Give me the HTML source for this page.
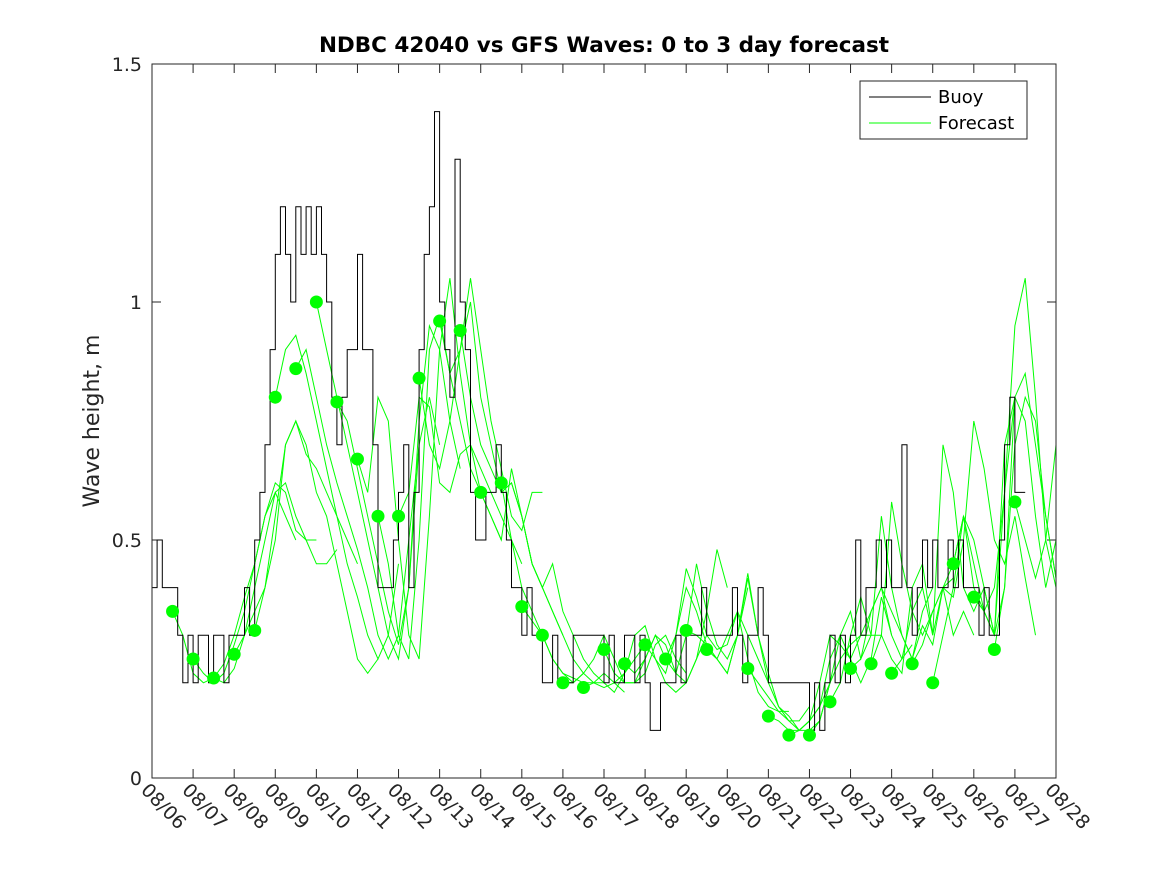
<!DOCTYPE html>
<html><head><meta charset="utf-8"><style>
html,body{margin:0;padding:0;background:#fff;}
svg{display:block;font-family:"DejaVu Sans","Liberation Sans",sans-serif;}
</style></head><body>
<svg id="chart" width="1167" height="875" viewBox="0 0 1167 875">
<rect x="0" y="0" width="1167" height="875" fill="#fff"/>
<text x="604" y="52" text-anchor="middle" font-size="21.5" font-weight="bold">NDBC 42040 vs GFS Waves: 0 to 3 day forecast</text>
<text transform="translate(99,421) rotate(-90)" text-anchor="middle" font-size="22" fill="#262626">Wave height, m</text>
<defs><clipPath id="pc"><rect x="152" y="64" width="904" height="714"/></clipPath></defs>
<g id="ticks"></g>
<g id="fc" clip-path="url(#pc)"></g>
<g id="buoy" clip-path="url(#pc)"></g>
<g id="dots"></g>
<rect x="152" y="64" width="904" height="714" fill="none" stroke="#262626" stroke-width="1"/>
<g>
<rect x="860" y="81" width="167" height="58" fill="#fff" stroke="#262626" stroke-width="1"/>
<line x1="869" y1="97" x2="931" y2="97" stroke="#000"/>
<text x="938" y="103" font-size="18">Buoy</text>
<line x1="869" y1="123" x2="931" y2="123" stroke="#00ff00"/>
<text x="938" y="129" font-size="18">Forecast</text>
</g>
</svg>
<script>
const xTickDays=[6,7,8,9,10,11,12,13,14,15,16,17,18,19,20,21,22,23,24,25,26,27,28];
const xTickLabels=["08/06","08/07","08/08","08/09","08/10","08/11","08/12","08/13","08/14","08/15","08/16","08/17","08/18","08/19","08/20","08/21","08/22","08/23","08/24","08/25","08/26","08/27","08/28"];
const yTicks=[0,0.5,1,1.5];
const yTickLabels=["0","0.5","1","1.5"];
const buoyStart=6, buoyStep=0.125;
const buoyValues=[
0.4,0.5,0.4,0.4,0.4,0.3,0.2,0.3,
0.2,0.3,0.3,0.2,0.3,0.3,0.2,0.3,
0.3,0.3,0.4,0.3,0.5,0.6,0.7,0.9,
1.1,1.2,1.1,1.0,1.2,1.1,1.2,1.1,
1.2,1.1,1.0,0.8,0.7,0.8,0.9,0.9,
1.1,0.9,0.9,0.7,0.4,0.4,0.4,0.5,
0.6,0.7,0.4,0.6,0.9,1.1,1.2,1.4,
1.0,0.9,0.8,1.3,1.0,0.9,0.6,0.5,
0.5,0.6,0.6,0.7,0.6,0.5,0.4,0.4,
0.3,0.4,0.3,0.3,0.2,0.2,0.3,0.2,
0.2,0.2,0.3,0.3,0.3,0.3,0.3,0.3,
0.2,0.3,0.2,0.2,0.3,0.3,0.2,0.3,
0.2,0.1,0.1,0.2,0.2,0.2,0.3,0.2,
0.3,0.3,0.3,0.4,0.3,0.3,0.3,0.3,
0.3,0.4,0.3,0.2,0.3,0.3,0.4,0.3,
0.2,0.2,0.2,0.2,0.2,0.2,0.2,0.2,
0.1,0.2,0.1,0.2,0.3,0.2,0.3,0.2,
0.3,0.5,0.3,0.4,0.4,0.5,0.4,0.5,
0.4,0.4,0.7,0.4,0.3,0.4,0.5,0.4,
0.5,0.4,0.4,0.5,0.4,0.5,0.4,0.4,
0.4,0.3,0.4,0.3,0.3,0.5,0.7,0.8,
0.6,0.6];
const dotDays=[6.5,7,7.5,8,8.5,9,9.5,10,10.5,11,11.5,12,12.5,13,13.5,14,14.5,15,15.5,16,16.5,17,17.5,18,18.5,19,19.5,20.5,21,21.5,22,22.5,23,23.5,24,24.5,25,25.5,26,26.5,27];
const dotValues=[0.35,0.25,0.21,0.26,0.31,0.8,0.86,1.0,0.79,0.67,0.55,0.55,0.84,0.96,0.94,0.6,0.62,0.36,0.3,0.2,0.19,0.27,0.24,0.28,0.25,0.31,0.27,0.23,0.13,0.09,0.09,0.16,0.23,0.24,0.22,0.24,0.2,0.45,0.38,0.27,0.58];
const fcStarts=[6.5,7.5,8.5,9.5,10,11.5,12.5,13.5,14.5,16,17.5,19,20.5,22,23.5,25,25.5,26.5,7,8,9,10.5,11,12,13,14,15,16.5,17,18,18.5,19.5,21,21.5,22.5,23,24,24.5,26,27];
const fcStep=0.25;
const fc1=[0.35,0.3,0.22,0.2,0.21,0.24,0.3,0.38,0.45,0.55,0.6,0.55,0.5];
const fc2=[0.21,0.2,0.23,0.3,0.4,0.5,0.6,0.62,0.55,0.5,0.45,0.45,0.48];
const fc3=[0.31,0.4,0.55,0.7,0.75,0.7,0.6,0.55,0.45,0.35,0.25,0.22,0.25];
const fc4=[0.86,0.9,0.8,0.7,0.62,0.55,0.48,0.4,0.3,0.25,0.3,0.5,0.7];
const fc5=[1.0,0.9,0.8,0.7,0.6,0.5,0.4,0.3,0.25,0.4,0.7,0.8,0.7];
const fc6=[0.55,0.45,0.3,0.25,0.5,0.9,0.97,0.85,0.75,0.65,0.6,0.55,0.5];
const fc7=[0.84,0.7,0.65,0.75,0.9,1.05,0.9,0.75,0.65,0.55,0.52,0.6,0.6];
const fc8=[0.94,0.8,0.7,0.65,0.6,0.62,0.55,0.45,0.4,0.35,0.3,0.25,0.22];
const fc9=[0.62,0.5,0.4,0.35,0.3,0.25,0.22,0.21,0.2,0.2,0.22,0.2,0.18];
const fc10=[0.2,0.2,0.22,0.25,0.3,0.25,0.2,0.2,0.22,0.28,0.3,0.25,0.22];
const fc11=[0.24,0.22,0.25,0.3,0.25,0.22,0.3,0.45,0.35,0.28,0.25,0.3,0.4];
const fc12=[0.31,0.3,0.28,0.25,0.22,0.3,0.42,0.3,0.22,0.15,0.12,0.12,0.15];
const fc13=[0.23,0.2,0.17,0.14,0.12,0.1,0.12,0.15,0.2,0.25,0.28,0.3,0.3];
const fc14=[0.09,0.12,0.2,0.3,0.35,0.25,0.3,0.55,0.4,0.3,0.25,0.35,0.4];
const fc15=[0.24,0.3,0.25,0.22,0.4,0.45,0.3,0.7,0.6,0.4,0.35,0.4,0.3];
const fc16=[0.2,0.3,0.4,0.55,0.5,0.4,0.3,0.7,0.8,0.75,0.55,0.4,0.5];
const fc17=[0.45,0.55,0.45,0.35,0.3,0.6,0.95,1.05,0.8,0.5,0.4,0.7,1.0];
const fc18=[0.27,0.4,0.7,0.8,0.75,0.55,0.42,0.5,0.7,0.85,0.9,0.8,0.65];
const fc19=[0.25,0.22,0.2,0.22,0.28,0.35,0.45,0.55,0.62,0.6,0.52,0.5,0.5];
const fc20=[0.26,0.3,0.35,0.4,0.5,0.7,0.75,0.68,0.65,0.6,0.55,0.5,0.45];
const fc21=[0.8,0.9,0.93,0.85,0.75,0.65,0.55,0.45,0.38,0.3,0.25,0.3,0.45];
const fc22=[0.79,0.75,0.65,0.55,0.45,0.35,0.28,0.4,0.75,0.95,0.9,0.75,0.65];
const fc23=[0.67,0.6,0.8,0.75,0.5,0.3,0.25,0.55,0.9,1.05,0.85,0.7,0.6];
const fc24=[0.55,0.6,0.8,0.78,0.62,0.6,0.68,0.7,0.65,0.6,0.55,0.5,0.45];
const fc25=[0.96,0.85,0.9,1.0,0.8,0.7,0.6,0.62,0.55,0.45,0.4,0.35,0.3];
const fc26=[0.6,0.55,0.5,0.65,0.55,0.45,0.4,0.45,0.35,0.3,0.25,0.22,0.2];
const fc27=[0.36,0.33,0.3,0.25,0.22,0.2,0.22,0.2,0.19,0.2,0.22,0.25,0.28];
const fc28=[0.19,0.2,0.2,0.18,0.22,0.3,0.32,0.25,0.2,0.18,0.2,0.25,0.3];
const fc29=[0.27,0.22,0.2,0.2,0.25,0.3,0.28,0.22,0.2,0.25,0.35,0.48,0.4];
const fc30=[0.28,0.25,0.22,0.3,0.4,0.35,0.28,0.25,0.3,0.35,0.3,0.25,0.2];
const fc31=[0.25,0.3,0.44,0.38,0.3,0.27,0.28,0.35,0.25,0.18,0.15,0.14,0.14];
const fc32=[0.27,0.25,0.22,0.3,0.43,0.3,0.2,0.15,0.13,0.1,0.1,0.12,0.2];
const fc33=[0.13,0.12,0.1,0.1,0.12,0.15,0.25,0.3,0.25,0.2,0.25,0.38,0.3];
const fc34=[0.09,0.1,0.12,0.2,0.3,0.28,0.25,0.3,0.35,0.4,0.3,0.25,0.28];
const fc35=[0.16,0.2,0.3,0.38,0.3,0.3,0.58,0.45,0.35,0.3,0.35,0.4,0.42];
const fc36=[0.23,0.25,0.35,0.4,0.35,0.3,0.25,0.32,0.28,0.4,0.3,0.35,0.3];
const fc37=[0.22,0.25,0.35,0.4,0.3,0.4,0.45,0.55,0.4,0.35,0.4,0.6,0.8];
const fc38=[0.24,0.28,0.35,0.4,0.38,0.5,0.75,0.65,0.5,0.45,0.55,0.42,0.3];
const fc39=[0.38,0.35,0.3,0.4,0.8,0.85,0.7,0.55,0.42,0.6,0.9,1.02,0.85];
const fc40=[0.58,0.5,0.42,0.5,0.7,0.85,0.9,0.8,0.7,0.6,0.5,0.45,0.4];
const fcSeries=[fc1,fc2,fc3,fc4,fc5,fc6,fc7,fc8,fc9,fc10,fc11,fc12,fc13,fc14,fc15,fc16,fc17,fc18,fc19,fc20,fc21,fc22,fc23,fc24,fc25,fc26,fc27,fc28,fc29,fc30,fc31,fc32,fc33,fc34,fc35,fc36,fc37,fc38,fc39,fc40];

const NS="http://www.w3.org/2000/svg";
const X0=152,X1=1056,Y0=778,Y1=64;
function xs(d){return X0+(d-6)/(28-6)*(X1-X0);}
function ys(v){return Y0-(v-0)/(1.5-0)*(Y0-Y1);}
function mk(tag,parent){const e=document.createElementNS(NS,tag);parent.appendChild(e);return e;}

const tg=document.getElementById('ticks');
xTickDays.forEach((d,i)=>{
  const x=xs(d);
  const t1=mk('line',tg);
  
  
  t1.setAttribute('x1',x);t1.setAttribute('x2',x);t1.setAttribute('y1',Y0);t1.setAttribute('y2',Y0-9);t1.setAttribute('stroke','#262626');
  const t2=mk('line',tg);
  
  
  t2.setAttribute('x1',x);t2.setAttribute('x2',x);t2.setAttribute('y1',Y1);t2.setAttribute('y2',Y1+9);t2.setAttribute('stroke','#262626');
  const tx=mk('text',tg);
  
  
  tx.setAttribute('transform','translate('+(x-12)+','+(Y0+13)+') rotate(46)');
  tx.setAttribute('font-size','19');tx.setAttribute('fill','#262626');
  tx.textContent=xTickLabels[i];
});
yTicks.forEach((v,i)=>{
  const y=ys(v);
  const t1=mk('line',tg);
  
  
  t1.setAttribute('x1',X0);t1.setAttribute('x2',X0+9);t1.setAttribute('y1',y);t1.setAttribute('y2',y);t1.setAttribute('stroke','#262626');
  const t2=mk('line',tg);
  
  
  t2.setAttribute('x1',X1);t2.setAttribute('x2',X1-9);t2.setAttribute('y1',y);t2.setAttribute('y2',y);t2.setAttribute('stroke','#262626');
  const tx=mk('text',tg);
  
  
  tx.setAttribute('x',X0-10);tx.setAttribute('y',y+7);tx.setAttribute('text-anchor','end');
  tx.setAttribute('font-size','19');tx.setAttribute('fill','#262626');
  tx.textContent=yTickLabels[i];
});

const fg=document.getElementById('fc');
fcSeries.forEach((s,k)=>{
  const pts=s.map((v,j)=>xs(fcStarts[k]+j*fcStep).toFixed(1)+','+ys(v).toFixed(1)).join(' ');
  const pl=mk('polyline',fg);
  
  
  pl.setAttribute('points',pts);pl.setAttribute('fill','none');pl.setAttribute('stroke','#00ff00');pl.setAttribute('stroke-width','1');
});

const bg=document.getElementById('buoy');
let bp=[];
buoyValues.forEach((v,j)=>{
  const xa=xs(buoyStart+j*buoyStep), xb=xs(buoyStart+(j+1)*buoyStep);
  bp.push(xa.toFixed(1)+','+ys(v).toFixed(1));
  bp.push(xb.toFixed(1)+','+ys(v).toFixed(1));
});
const bl=mk('polyline',bg);


bl.setAttribute('points',bp.join(' '));bl.setAttribute('fill','none');bl.setAttribute('stroke','#000');bl.setAttribute('stroke-width','1');

const dg=document.getElementById('dots');
dotDays.forEach((d,i)=>{
  const c=mk('circle',dg);
  
  
  c.setAttribute('cx',xs(d));c.setAttribute('cy',ys(dotValues[i]));c.setAttribute('r','6.5');c.setAttribute('fill','#00ff00');
});
</script>
</body></html>
